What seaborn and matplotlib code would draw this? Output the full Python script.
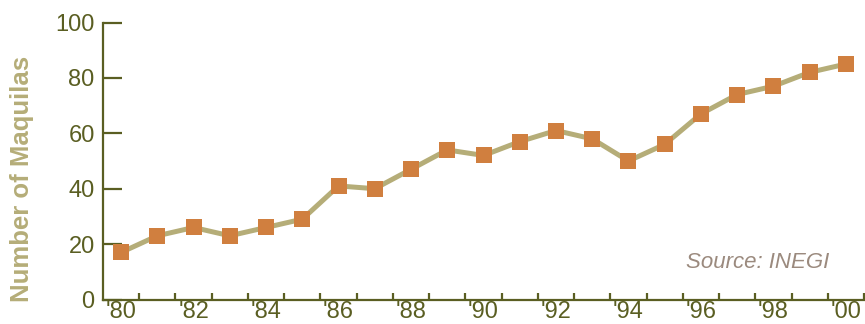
import matplotlib
matplotlib.use("Agg")
import matplotlib.pyplot as plt
import seaborn as sns
import pandas as pd

years = list(range(1980, 2001))
maquilas = [17, 23, 26, 23, 26, 29, 41, 40, 47, 54, 52, 57, 61, 58, 50, 56, 67, 74, 77, 82, 85]
tick_labels = ["'80", "'82", "'84", "'86", "'88", "'90", "'92", "'94", "'96", "'98", "'00"]
y_ticks = [0, 20, 40, 60, 80, 100]

sns.set_style("white")
plt.rcParams['font.family'] = ['Liberation Sans', 'DejaVu Sans']

AX = "#5a5e22"
LINE = "#b5ad78"
MARK = "#d07f3f"

df = pd.DataFrame({"idx": range(len(years)), "year": years, "n": maquilas})

fig = plt.figure(figsize=(8.65, 3.24), dpi=100)
ax = fig.add_axes([103/865, 1 - 299.5/324, (864 - 103)/865, (299.5 - 22.5)/324])

sns.lineplot(data=df, x="idx", y="n", ax=ax, color=LINE, linewidth=3.6,
             marker="s", markersize=11, markerfacecolor=MARK, markeredgecolor=MARK,
             markeredgewidth=0, zorder=3)

ax.set_xlim(-0.5, len(years) - 0.5)
ax.set_ylim(0, 100)

for s in ["top", "right"]:
    ax.spines[s].set_visible(False)
for s in ["left", "bottom"]:
    ax.spines[s].set_color(AX)
    ax.spines[s].set_linewidth(1.6)

ax.set_yticks(y_ticks)
ax.set_yticklabels([str(v) for v in y_ticks])
ax.tick_params(axis="y", left=True, direction="in", length=13.5, width=1.6, color=AX,
               labelcolor=AX, labelsize=17, pad=6)

# x ticks at category boundaries, labels at every other category center
ax.set_xticks([i + 0.5 for i in range(len(years))])
ax.set_xticklabels([])
ax.tick_params(axis="x", which="major", bottom=True, direction="in", length=5, width=1.6, color=AX)
ax.set_xticks(list(range(0, len(years), 2)), minor=True)
ax.set_xticklabels(tick_labels, minor=True)
ax.tick_params(axis="x", which="minor", bottom=True, length=0, labelcolor=AX, labelsize=17, pad=1)

ax.set_xlabel("")
ax.set_ylabel("")
fig.text(22/865, 1 - 179/324, "Number of Maquilas", rotation=90, ha="center", va="center",
         color=LINE, fontsize=18.5, fontweight="bold")

ax.text(829/865, 1 - 263/324, "Source: INEGI", transform=fig.transFigure, ha="right", va="center",
        fontsize=16, fontstyle="italic", color="#9b8a7e")

fig.savefig("out.png", dpi=100)
